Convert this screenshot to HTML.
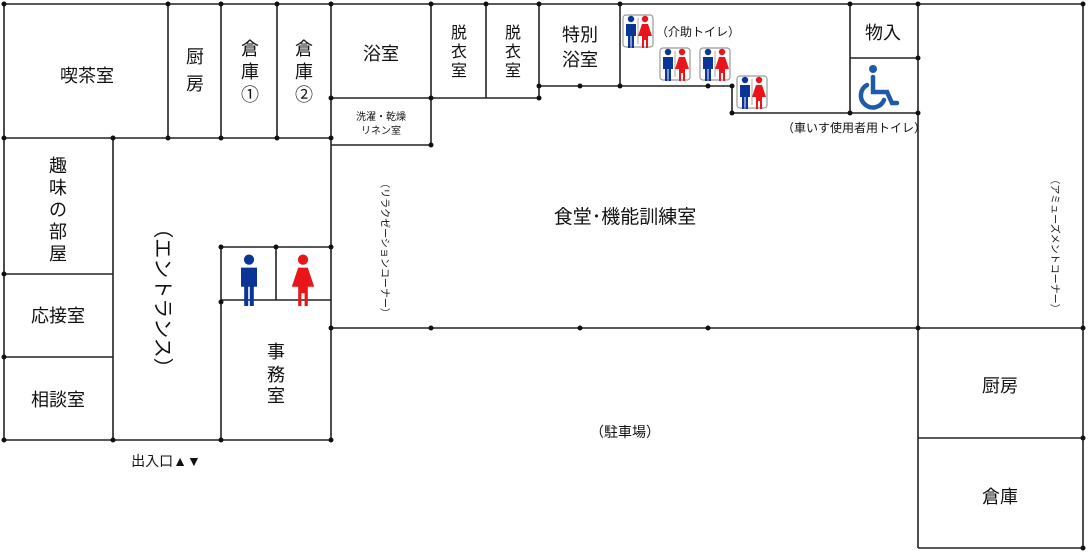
<!DOCTYPE html>
<html><head><meta charset="utf-8"><style>
html,body{margin:0;padding:0;background:#fff;}
svg{display:block;font-family:"Liberation Sans","Noto Sans CJK JP",sans-serif;}
</style></head><body>
<svg width="1089" height="552" viewBox="0 0 1089 552" xmlns="http://www.w3.org/2000/svg">
<defs>
<g id="man"><circle cx="0" cy="-14" r="3.2" fill="#0a3596"/><path d="M-5,-9 h10 v12 h-2 v12 h-2.5 v-12 h-1 v12 h-2.5 v-12 h-2z" fill="#0a3596"/></g>
<g id="woman"><circle cx="0" cy="-14" r="3.2" fill="#e8161a"/><path d="M-3,-9 h6 l4,12 h-4 v12 h-2 v-8 h-2 v8 h-2 v-12 h-4z" fill="#e8161a"/></g>
<g id="wc"><rect x="0" y="0" width="30" height="32" rx="3" fill="#fff" stroke="#999" stroke-width="1.2"/><line x1="15" y1="3" x2="15" y2="29" stroke="#aaa"/><use href="#man" x="8" y="18"/><use href="#woman" x="22" y="18"/></g>
</defs>
<g stroke="#222" stroke-width="1.6" fill="none">
<line x1="4" y1="4" x2="918" y2="4"/>
<line x1="4" y1="4" x2="4" y2="440"/>
<line x1="4" y1="138" x2="331" y2="138"/>
<line x1="168" y1="4" x2="168" y2="138"/>
<line x1="221" y1="4" x2="221" y2="138"/>
<line x1="277" y1="4" x2="277" y2="138"/>
<line x1="331" y1="4" x2="331" y2="440"/>
<line x1="331" y1="98" x2="539" y2="98"/>
<line x1="331" y1="145" x2="431" y2="145"/>
<line x1="431" y1="4" x2="431" y2="145"/>
<line x1="486" y1="4" x2="486" y2="98"/>
<line x1="539" y1="4" x2="539" y2="98"/>
<line x1="539" y1="86" x2="732" y2="86"/>
<line x1="620" y1="4" x2="620" y2="86"/>
<line x1="732" y1="86" x2="732" y2="113"/>
<line x1="732" y1="113" x2="918" y2="113"/>
<line x1="850" y1="4" x2="850" y2="113"/>
<line x1="850" y1="58" x2="918" y2="58"/>
<line x1="4" y1="274" x2="113" y2="274"/>
<line x1="4" y1="357" x2="113" y2="357"/>
<line x1="113" y1="138" x2="113" y2="440"/>
<line x1="221" y1="247" x2="221" y2="440"/>
<line x1="221" y1="247" x2="331" y2="247"/>
<line x1="221" y1="300" x2="331" y2="300"/>
<line x1="276" y1="247" x2="276" y2="300"/>
<line x1="4" y1="440" x2="331" y2="440"/>
<line x1="331" y1="328" x2="1083" y2="328"/>
<line x1="918" y1="4" x2="918" y2="548"/>
<line x1="918" y1="4" x2="1083" y2="4"/>
<line x1="1083" y1="4" x2="1083" y2="548"/>
<line x1="918" y1="438" x2="1083" y2="438"/>
<line x1="918" y1="548" x2="1083" y2="548"/>
</g>
<g fill="#111">
<circle cx="4" cy="4" r="2.5"/><circle cx="168" cy="4" r="2.5"/><circle cx="221" cy="4" r="2.5"/><circle cx="277" cy="4" r="2.5"/><circle cx="331" cy="4" r="2.5"/><circle cx="431" cy="4" r="2.5"/><circle cx="486" cy="4" r="2.5"/><circle cx="539" cy="4" r="2.5"/><circle cx="620" cy="4" r="2.5"/><circle cx="850" cy="4" r="2.5"/><circle cx="918" cy="4" r="2.5"/><circle cx="1083" cy="4" r="2.5"/>
<circle cx="4" cy="138" r="2.5"/><circle cx="113" cy="138" r="2.5"/><circle cx="221" cy="138" r="2.5"/><circle cx="331" cy="138" r="2.5"/><circle cx="168" cy="138" r="2.5"/><circle cx="277" cy="138" r="2.5"/>
<circle cx="331" cy="98" r="2.5"/><circle cx="431" cy="98" r="2.5"/><circle cx="431" cy="145" r="2.5"/><circle cx="539" cy="98" r="2.5"/><circle cx="539" cy="86" r="2.5"/><circle cx="580" cy="86" r="2.5"/><circle cx="620" cy="86" r="2.5"/><circle cx="708" cy="86" r="2.5"/><circle cx="732" cy="86" r="2.5"/><circle cx="732" cy="113" r="2.5"/><circle cx="850" cy="113" r="2.5"/><circle cx="918" cy="113" r="2.5"/><circle cx="918" cy="58" r="2.5"/>
<circle cx="4" cy="274" r="2.5"/><circle cx="4" cy="357" r="2.5"/><circle cx="4" cy="440" r="2.5"/><circle cx="113" cy="440" r="2.5"/><circle cx="221" cy="440" r="2.5"/><circle cx="331" cy="440" r="2.5"/>
<circle cx="221" cy="247" r="2.5"/><circle cx="276" cy="247" r="2.5"/><circle cx="331" cy="247" r="2.5"/><circle cx="221" cy="302" r="2.5"/><circle cx="331" cy="328" r="2.5"/>
<circle cx="431" cy="328" r="2.5"/><circle cx="580" cy="328" r="2.5"/><circle cx="708" cy="328" r="2.5"/><circle cx="918" cy="328" r="2.5"/><circle cx="1083" cy="328" r="2.5"/><circle cx="1083" cy="438" r="2.5"/><circle cx="1083" cy="548" r="2.5"/>
</g>
<g font-size="18" fill="#111" text-anchor="middle">
<text x="87" y="82">喫茶室</text>
<text x="195" y="63">厨</text><text x="195" y="90">房</text>
<text x="250" y="55">倉</text><text x="250" y="78">庫</text><text x="250" y="101">①</text>
<text x="304" y="55">倉</text><text x="304" y="78">庫</text><text x="304" y="101">②</text>
<text x="381" y="60">浴室</text>
<text x="459" y="38" font-size="16">脱</text><text x="459" y="57" font-size="16">衣</text><text x="459" y="76" font-size="16">室</text>
<text x="513" y="38" font-size="16">脱</text><text x="513" y="57" font-size="16">衣</text><text x="513" y="76" font-size="16">室</text>
<text x="580" y="41">特別</text><text x="580" y="66">浴室</text>
<text x="883" y="39">物入</text>
<text x="381" y="120" font-size="10">洗濯・乾燥</text><text x="381" y="134" font-size="10">リネン室</text>
<text x="58" y="172">趣</text><text x="58" y="194">味</text><text x="58" y="216">の</text><text x="58" y="238">部</text><text x="58" y="260">屋</text>
<text x="58" y="322">応接室</text>
<text x="58" y="406">相談室</text>
<text x="276" y="358">事</text><text x="276" y="381">務</text><text x="276" y="402">室</text>
<text x="625" y="223" font-size="19">食堂･機能訓練室</text>
<text x="1000" y="392">厨房</text>
<text x="1000" y="503">倉庫</text>
<text x="625" y="437" font-size="14">（駐車場）</text>
<text x="166" y="466" font-size="14">出入口▲▼</text>
<text x="854" y="132" font-size="12">（車いす使用者用トイレ）</text>
</g>
<text x="656" y="36" font-size="12" fill="#111">（介助トイレ）</text>
<text font-size="20" fill="#111" transform="translate(162,298) rotate(90)" text-anchor="middle" dominant-baseline="central">（エントランス）</text>
<text font-size="10" fill="#111" transform="translate(384,248) rotate(90)" text-anchor="middle" dominant-baseline="central">（リラクゼーションコーナー）</text>
<text font-size="10" fill="#111" transform="translate(1054,244) rotate(90)" text-anchor="middle" dominant-baseline="central">（アミューズメントコーナー）</text>
<use href="#wc" x="623" y="15"/>
<use href="#wc" x="660" y="48"/>
<use href="#wc" x="700" y="48"/>
<use href="#wc" x="737" y="76"/>
<g transform="translate(249,282) scale(1.6)"><use href="#man"/></g>
<g transform="translate(303,282) scale(1.6)"><use href="#woman"/></g>
<g fill="none" stroke="#1e5aa8" stroke-width="4.5" stroke-linecap="round">
<circle cx="873" cy="69" r="4" fill="#1e5aa8" stroke="none"/>
<path d="M873,77 v15 h14 l5,11 h5"/>
<path d="M867,85 a12,12 0 1 0 17,15"/>
</g>
</svg>
</body></html>
